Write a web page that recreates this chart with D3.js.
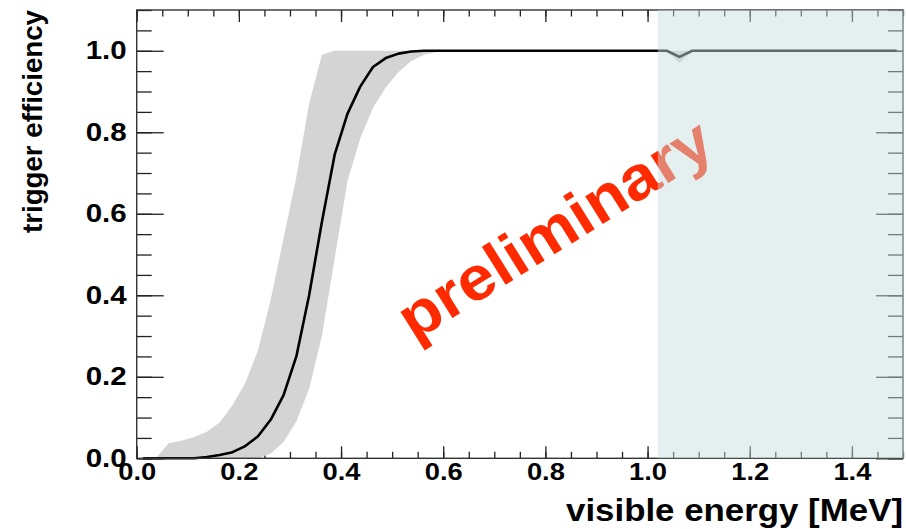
<!DOCTYPE html>
<html lang="en">
<head>
    <meta charset="UTF-8">
    <title>Trigger efficiency</title>
    <script src="https://d3js.org/d3.v7.min.js"></script>
    <style>
        body { margin: 0; background: white; }
        text { font-family: "Liberation Sans", Arial, sans-serif; font-weight: bold; }
    </style>
</head>
<body>
    <script>
        // bin centres of visible energy [MeV]
        const energy = [0.0125, 0.0375, 0.0625, 0.0875, 0.1125, 0.1375, 0.1625, 0.1875, 0.2125, 0.2375,
                        0.2625, 0.2875, 0.3125, 0.3375, 0.3625, 0.3875, 0.4125, 0.4375, 0.4625, 0.4875,
                        0.5125, 0.5375, 0.5625, 0.5875, 0.6125, 0.6375, 0.6625, 0.6875, 0.7125, 0.7375,
                        0.7625, 0.7875, 0.8125, 0.8375, 0.8625, 0.8875, 0.9125, 0.9375, 0.9625, 0.9875,
                        1.0125, 1.0375, 1.0625, 1.0875, 1.1125, 1.1375, 1.1625, 1.1875, 1.2125, 1.2375,
                        1.2625, 1.2875, 1.3125, 1.3375, 1.3625, 1.3875, 1.4125, 1.4375, 1.4625, 1.4875];
        const efficiency = [0, 0, 0, 0, 0, 0.003, 0.008, 0.015, 0.03, 0.054,
                            0.095, 0.155, 0.25, 0.40, 0.58, 0.745, 0.845, 0.912, 0.96, 0.982,
                            0.993, 0.998, 1, 1, 1, 1, 1, 1, 1, 1,
                            1, 1, 1, 1, 1, 1, 1, 1, 1, 1,
                            1, 1, 0.985, 1, 1, 1, 1, 1, 1, 1,
                            1, 1, 1, 1, 1, 1, 1, 1, 1, 1];
        const bandLow = [0, 0, 0, 0, 0, 0, 0, 0, 0, 0,
                         0.012, 0.04, 0.09, 0.17, 0.30, 0.49, 0.68, 0.785, 0.86, 0.91,
                         0.948, 0.975, 0.99, 0.997, 1, 1, 1, 1, 1, 1,
                         1, 1, 1, 1, 1, 1, 1, 1, 1, 1,
                         1, 1, 0.97, 1, 1, 1, 1, 1, 1, 1,
                         1, 1, 1, 1, 1, 1, 1, 1, 1, 1];
        const bandHigh = [0, 0, 0.037, 0.043, 0.052, 0.065, 0.088, 0.13, 0.185, 0.265,
                          0.39, 0.54, 0.69, 0.87, 0.99, 1, 1, 1, 1, 1,
                          1, 1, 1, 1, 1, 1, 1, 1, 1, 1,
                          1, 1, 1, 1, 1, 1, 1, 1, 1, 1,
                          1, 1, 1, 1, 1, 1, 1, 1, 1, 1,
                          1, 1, 1, 1, 1, 1, 1, 1, 1, 1];
        const xTicks = [0, 0.2, 0.4, 0.6, 0.8, 1.0, 1.2, 1.4];
        const yTicks = [0, 0.2, 0.4, 0.6, 0.8, 1.0];
        const shadedRange = [1.02, 1.5];
        const watermark = "preliminary";

        const width = 906, height = 529;
        const m = { left: 136.7, right: 903, top: 10, bottom: 458.3 };

        const x = d3.scaleLinear().domain([0, 1.5]).range([m.left, m.right]);
        const y = d3.scaleLinear().domain([0, 1.1]).range([m.bottom, m.top]);

        const svg = d3.select("body").append("svg")
            .attr("width", width)
            .attr("height", height);

        const minorX = d3.range(0, 1.5001, 0.05);
        const minorY = d3.range(0, 1.1001, 0.05);
        const fmt = d3.format(".1f");

        // axes (ticks point inwards like ROOT)
        function styleAxis(g) {
            g.select(".domain").remove();
            g.selectAll(".tick line").attr("stroke", "#222").attr("stroke-width", 1.3);
        }
        svg.append("g").attr("transform", `translate(0,${m.bottom})`)
            .call(d3.axisBottom(x).tickValues(minorX).tickSize(-6.5).tickFormat(""))
            .call(styleAxis);
        svg.append("g").attr("transform", `translate(0,${m.bottom})`)
            .call(d3.axisBottom(x).tickValues(xTicks).tickSize(-12).tickPadding(5).tickFormat(fmt))
            .call(styleAxis)
            .call(g => g.selectAll("text")
                .attr("fill", "#000").style("font-size", "24px")
                .attr("textLength", 38).attr("lengthAdjust", "spacingAndGlyphs"));
        svg.append("g").attr("transform", `translate(0,${m.top})`)
            .call(d3.axisTop(x).tickValues(minorX).tickSize(-6.5).tickFormat(""))
            .call(styleAxis);
        svg.append("g").attr("transform", `translate(0,${m.top})`)
            .call(d3.axisTop(x).tickValues(xTicks).tickSize(-12).tickFormat(""))
            .call(styleAxis);
        svg.append("g").attr("transform", `translate(${m.left},0)`)
            .call(d3.axisLeft(y).tickValues(minorY).tickSize(-15).tickFormat(""))
            .call(styleAxis);
        svg.append("g").attr("transform", `translate(${m.left},0)`)
            .call(d3.axisLeft(y).tickValues(yTicks).tickSize(-27).tickPadding(10).tickFormat(fmt))
            .call(styleAxis)
            .call(g => g.selectAll("text")
                .attr("fill", "#000").style("font-size", "25px")
                .attr("textLength", 41).attr("lengthAdjust", "spacingAndGlyphs"));
        svg.append("g").attr("transform", `translate(${m.right},0)`)
            .call(d3.axisRight(y).tickValues(minorY).tickSize(-15).tickFormat(""))
            .call(styleAxis);
        svg.append("g").attr("transform", `translate(${m.right},0)`)
            .call(d3.axisRight(y).tickValues(yTicks).tickSize(-27).tickFormat(""))
            .call(styleAxis);

        // uncertainty band
        const area = d3.area()
            .x(i => x(energy[i]))
            .y0(i => y(bandLow[i]))
            .y1(i => y(bandHigh[i]));
        svg.append("path")
            .datum(d3.range(energy.length))
            .attr("d", area)
            .attr("fill", "#d4d4d4");

        // efficiency curve
        const line = d3.line()
            .x(i => x(energy[i]))
            .y(i => y(efficiency[i]));
        svg.append("path")
            .datum(d3.range(energy.length))
            .attr("d", line)
            .attr("fill", "none")
            .attr("stroke", "#000")
            .attr("stroke-width", 2.6)
            .attr("stroke-linejoin", "round");

        // frame
        svg.append("rect")
            .attr("x", m.left).attr("y", m.top)
            .attr("width", m.right - m.left).attr("height", m.bottom - m.top)
            .attr("fill", "none").attr("stroke", "#333").attr("stroke-width", 1.4);

        // watermark
        svg.append("text")
            .attr("transform", "translate(414,342) rotate(-32)")
            .attr("fill", "#ff2a00")
            .style("font-size", "62px")
            .attr("textLength", 358).attr("lengthAdjust", "spacingAndGlyphs")
            .text(watermark);

        // shaded region drawn on top
        svg.append("rect")
            .attr("x", x(shadedRange[0])).attr("y", m.top)
            .attr("width", x(shadedRange[1]) - x(shadedRange[0]) + 1)
            .attr("height", m.bottom - m.top)
            .attr("fill", "rgb(198,223,223)")
            .attr("fill-opacity", 0.48);

        // axis titles
        svg.append("text")
            .attr("x", 903).attr("y", 521)
            .attr("text-anchor", "end")
            .style("font-size", "31px")
            .attr("textLength", 337).attr("lengthAdjust", "spacingAndGlyphs")
            .text("visible energy [MeV]");
        svg.append("text")
            .attr("transform", "translate(42,10) rotate(-90)")
            .attr("text-anchor", "end")
            .style("font-size", "28px")
            .attr("textLength", 223).attr("lengthAdjust", "spacingAndGlyphs")
            .text("trigger efficiency");
    </script>
</body>
</html>
